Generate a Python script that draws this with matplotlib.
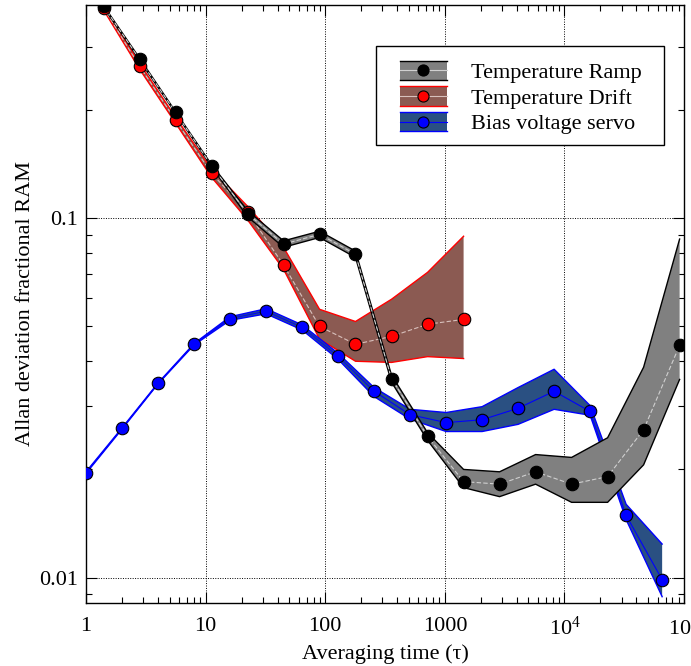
import numpy as np
import matplotlib
matplotlib.use("Agg")
import matplotlib.pyplot as plt
from matplotlib.patches import Rectangle
from matplotlib.lines import Line2D
from matplotlib.legend_handler import HandlerBase
from matplotlib.ticker import LogLocator, FixedLocator, FixedFormatter, NullFormatter

plt.rcParams['font.family'] = ['Liberation Serif', 'DejaVu Serif']
plt.rcParams['mathtext.fontset'] = 'stix'

# =========================
# DATA
# =========================
# Temperature Ramp
tau_ramp = [1.4, 2.8, 5.6, 11.2, 22.4, 44.8, 89.6, 179, 358, 717, 1434, 2867,
            5734, 11469, 22938, 45875, 91750]
ramp = [0.389, 0.277, 0.197, 0.140, 0.103, 0.0847, 0.0902, 0.0794, 0.0358, 0.0247,
        0.0185, 0.0182, 0.0197, 0.0182, 0.0191, 0.0258, 0.0443]
ramp_hi = [0.391, 0.279, 0.198, 0.141, 0.105, 0.0865, 0.0920, 0.0810, 0.0366, 0.0253,
           0.0200, 0.0197, 0.0220, 0.0216, 0.0245, 0.0385, 0.0875]
ramp_lo = [0.387, 0.275, 0.196, 0.139, 0.101, 0.0830, 0.0884, 0.0778, 0.0350, 0.0241,
           0.0178, 0.0168, 0.0182, 0.0162, 0.0162, 0.0206, 0.0356]

# Temperature Drift
tau_drift = [1.4, 2.8, 5.6, 11.2, 22.4, 44.8, 89.6, 179, 358, 717, 1434]
drift = [0.385, 0.265, 0.1875, 0.1334, 0.104, 0.0741, 0.0500, 0.0446, 0.0469, 0.0507, 0.0523]
drift_hi = [0.390, 0.270, 0.191, 0.137, 0.108, 0.0830, 0.0558, 0.0516, 0.0595, 0.0707, 0.0891]
drift_lo = [0.380, 0.260, 0.184, 0.130, 0.099, 0.0721, 0.0461, 0.0400, 0.0397, 0.0412, 0.0407]

# Bias voltage servo
tau_bias = [1, 2, 4, 8, 16, 32, 64, 128, 256, 512, 1024, 2048, 4096, 8192, 16384,
            32768, 65536]
bias = [0.0196, 0.0260, 0.0347, 0.0446, 0.0526, 0.0551, 0.0497, 0.0413, 0.0330, 0.0284,
        0.0270, 0.0275, 0.0296, 0.0330, 0.0290, 0.0149, 0.00987]
bias_hi = [0.0197, 0.0261, 0.0348, 0.0448, 0.0532, 0.0560, 0.0505, 0.0421, 0.0338, 0.0294,
           0.0288, 0.0299, 0.0338, 0.0380, 0.0301, 0.0160, 0.0124]
bias_lo = [0.0195, 0.0259, 0.0346, 0.0444, 0.0520, 0.0542, 0.0489, 0.0405, 0.0319, 0.0276,
           0.0255, 0.0255, 0.0267, 0.0294, 0.0283, 0.0145, 0.00885]

xtick_vals = [1, 10, 100, 1000, 1e4, 1e5]
xtick_labels = ['1', '10', '100', '1000', r'$\mathregular{10^4}$', r'$\mathregular{10^5}$']
ytick_vals = [0.01, 0.1]
ytick_labels = ['0.01', '0.1']

series_names = ['Temperature Ramp', 'Temperature Drift', 'Bias voltage servo']
# fill, edge, centre line, marker face
styles = [('#808080', '#000000', '#d0d0d0', '#000000'),
          ('#8b5a52', '#ff0000', '#d8c0bc', '#ff0000'),
          ('#2a5082', '#0000ff', '#0000ff', '#0000ff')]

# =========================
# PLOT
# =========================
fig = plt.figure(figsize=(6.91, 6.66), dpi=100)
ax = fig.add_axes([0.1245, 0.0946, 0.8655, 0.8979])


def band(x, y, lo, hi, st, mid_style, z):
    fill, edge, mid, _ = st
    ax.fill_between(x, lo, hi, facecolor=fill, edgecolor='none', zorder=z)
    ax.plot(x, hi, color=edge, lw=1.0, zorder=z + 0.1)
    ax.plot(x, lo, color=edge, lw=1.0, zorder=z + 0.1)
    ax.plot(x, y, color=mid, lw=0.8, ls=mid_style, zorder=z + 0.2)


band(tau_drift, drift, drift_lo, drift_hi, styles[1], (0, (4, 2)), 2)
band(tau_bias, bias, bias_lo, bias_hi, styles[2], '-', 3)
band(tau_ramp, ramp, ramp_lo, ramp_hi, styles[0], (0, (4, 2)), 4)

mk = dict(ls='none', marker='o', ms=9, mec='black', mew=0.8)
ax.plot(tau_drift, drift, mfc=styles[1][3], zorder=6, **mk)
ax.plot(tau_bias, bias, mfc=styles[2][3], zorder=6, **mk)
ax.plot(tau_ramp, ramp, mfc=styles[0][3], zorder=7, **mk)

ax.set_xscale('log')
ax.set_yscale('log')
ax.set_xlim(1, 1e5)
ax.set_ylim(0.0085, 0.392)

ax.xaxis.set_major_locator(FixedLocator(xtick_vals))
ax.xaxis.set_major_formatter(FixedFormatter(xtick_labels))
ax.xaxis.set_minor_locator(LogLocator(base=10, subs=np.arange(2, 10), numticks=20))
ax.xaxis.set_minor_formatter(NullFormatter())
ax.yaxis.set_major_locator(FixedLocator(ytick_vals))
ax.yaxis.set_major_formatter(FixedFormatter(ytick_labels))
ax.yaxis.set_minor_locator(LogLocator(base=10, subs=np.arange(2, 10), numticks=20))
ax.yaxis.set_minor_formatter(NullFormatter())

ax.tick_params(which='both', direction='in', top=True, right=True, labelsize=16)
ax.tick_params(which='major', length=8, width=0.8)
ax.tick_params(which='minor', length=4, width=0.8)
ax.tick_params(axis='x', which='major', pad=10)
ax.tick_params(axis='y', which='major', pad=6)
for s in ax.spines.values():
    s.set_linewidth(1.0)

ax.grid(True, which='major', color='black', ls=(0, (1, 1.5)), lw=0.7)

ax.set_xlabel('Averaging time (\u03c4)', fontsize=16, labelpad=3)
ax.set_ylabel('Allan deviation fractional RAM', fontsize=16, labelpad=3)


# legend handle: filled band with top/bottom edges, centre line and marker
class BandHandler(HandlerBase):
    def create_artists(self, legend, orig_handle, xd, yd, w, h, fontsize, trans):
        fill, edge, mid, mface = orig_handle
        x0, y0 = -xd, -yd
        rect = Rectangle((x0, y0), w, h, facecolor=fill, edgecolor='none', transform=trans)
        top = Line2D([x0, x0 + w], [y0 + h] * 2, color=edge, lw=1.0, transform=trans)
        bot = Line2D([x0, x0 + w], [y0] * 2, color=edge, lw=1.0, transform=trans)
        cen = Line2D([x0, x0 + w], [y0 + 0.5 * h] * 2, color=mid, lw=0.8, transform=trans)
        dot = Line2D([x0 + w / 2], [y0 + 0.5 * h], ls='none', marker='o', ms=8,
                     mfc=mface, mec='black', mew=0.8, transform=trans)
        return [rect, top, bot, cen, dot]


# legend frame drawn separately so the side padding can differ from the top padding
frame = Rectangle((0.485, 0.766), 0.4815, 0.1655, transform=ax.transAxes,
                  facecolor='white', edgecolor='black', lw=1.0, zorder=9)
ax.add_patch(frame)
leg = ax.legend(styles, series_names, handler_map={tuple: BandHandler()},
                loc='upper left', bbox_to_anchor=(0.525, 0.907), fontsize=16,
                frameon=False, handlelength=2.1, handleheight=0.95,
                labelspacing=0.16, handletextpad=1.1, borderpad=0, borderaxespad=0)
leg.set_zorder(10)

plt.savefig('out.png', dpi=100)
